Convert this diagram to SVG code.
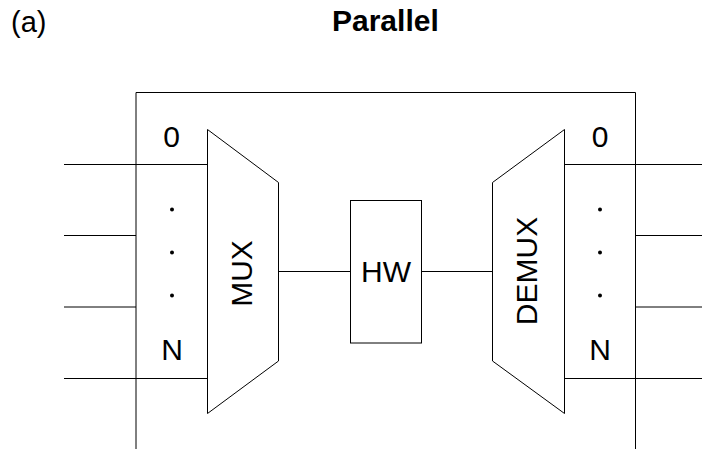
<svg xmlns="http://www.w3.org/2000/svg" width="702" height="449" viewBox="0 0 702 449">
<style>
  .ln { stroke: #000; stroke-width: 1; fill: none; }
  .shape { stroke: #000; stroke-width: 1; fill: #fff; }
  .lbl { font-family: "Liberation Sans", Arial, sans-serif; font-size: 30px; fill: #000; text-anchor: middle; }
  .dot { fill: #000; }
</style>
<rect width="702" height="449" fill="#fff"/>
<text x="11" y="32" style="font-family:'Liberation Sans',Arial,sans-serif;font-size:29px;fill:#000">(a)</text>
<text x="332" y="31" style="font-family:'Liberation Sans',Arial,sans-serif;font-size:30px;font-weight:bold;fill:#000">Parallel</text>
<g id="frame">
  <path class="ln" d="M136,449 V92.5 H635.5 V449"/>
</g>
<g id="connectors">
  <path class="ln" d="M64,164.5 H207.5"/>
  <path class="ln" d="M64,235.5 H136"/>
  <path class="ln" d="M64,307 H136"/>
  <path class="ln" d="M64,378.5 H207.5"/>
  <path class="ln" d="M278.5,271.5 H350.5"/>
  <path class="ln" d="M421.5,271.5 H492.5"/>
  <path class="ln" d="M564.5,164.5 H702"/>
  <path class="ln" d="M635.5,235.5 H702"/>
  <path class="ln" d="M635.5,307 H702"/>
  <path class="ln" d="M564.5,378.5 H702"/>
</g>
<g id="inputs-labels">
  <text class="lbl" x="171.5" y="147">0</text>
  <circle class="dot" cx="172" cy="209.5" r="2"/>
  <circle class="dot" cx="172" cy="252.5" r="2"/>
  <circle class="dot" cx="172" cy="295.5" r="2"/>
  <text class="lbl" x="172" y="360">N</text>
</g>
<g id="mux">
  <polygon class="shape" points="207.5,129.5 278.5,182.5 278.5,361 207.5,413.5"/>
  <text class="lbl" x="0" y="0" transform="translate(252,273.5) rotate(-90)">MUX</text>
</g>
<g id="hw">
  <rect class="shape" x="350.5" y="200.5" width="71" height="142.5"/>
  <text class="lbl" x="386" y="282">HW</text>
</g>
<g id="demux">
  <polygon class="shape" points="492.5,182.5 564.5,129.5 564.5,413.5 492.5,361"/>
  <text class="lbl" x="0" y="0" transform="translate(537,271) rotate(-90)">DEMUX</text>
</g>
<g id="outputs-labels">
  <text class="lbl" x="600" y="147">0</text>
  <circle class="dot" cx="600" cy="209.5" r="2"/>
  <circle class="dot" cx="600" cy="252.5" r="2"/>
  <circle class="dot" cx="600" cy="295.5" r="2"/>
  <text class="lbl" x="600" y="360">N</text>
</g>
</svg>
